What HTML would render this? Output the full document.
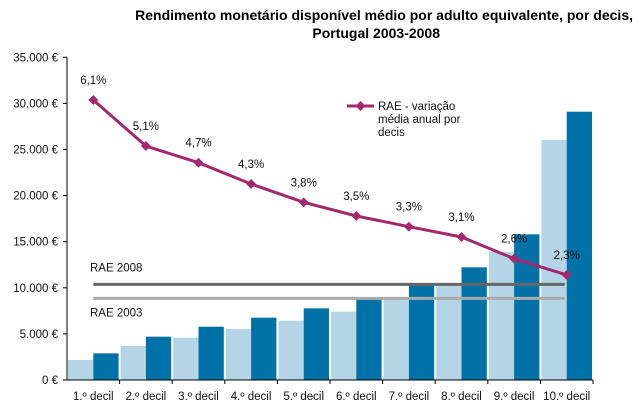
<!DOCTYPE html>
<html><head><meta charset="utf-8"><style>
body{margin:0;background:#fff;width:642px;height:411px;overflow:hidden;font-family:"Liberation Sans",sans-serif}
svg text{font-family:"Liberation Sans",sans-serif}
</style></head><body>
<svg id="c" width="642" height="411">
<text x="633" y="20" text-anchor="end" font-size="14" font-weight="bold">Rendimento monetário disponível médio por adulto equivalente, por decis,</text>
<text x="440" y="38" text-anchor="end" font-size="14" font-weight="bold">Portugal 2003-2008</text>
</svg>
<script>
const categories=["1.º decil","2.º decil","3.º decil","4.º decil","5.º decil","6.º decil","7.º decil","8.º decil","9.º decil","10.º decil"];
const rae2003=[2170,3690,4590,5530,6430,7410,8700,10400,13880,26030];
const rae2008=[2890,4700,5780,6760,7770,8850,10370,12220,15800,29100];
const lineValues=[30370,25380,23570,21260,19270,17790,16630,15510,13160,11390];
const lineLabels=["6,1%","5,1%","4,7%","4,3%","3,8%","3,5%","3,3%","3,1%","2,6%","2,3%"];
const yTicks=[0,5000,10000,15000,20000,25000,30000,35000];
const yTickLabels=["0 €","5.000 €","10.000 €","15.000 €","20.000 €","25.000 €","30.000 €","35.000 €"];
const refLines=[{name:"RAE 2008",v:10370},{name:"RAE 2003",v:8850}];
const svg=document.getElementById('c');const NS="http://www.w3.org/2000/svg";
const X0=67,X1=593,Y0=380,Y35=57.3;
const FS=11.5;
const y=v=>Y0-(v/35000)*(Y0-Y35);
const bw=(X1-X0)/categories.length;
const xc=i=>X0+bw*(i+0.5);
function el(t,a,p){const e=document.createElementNS(NS,t);for(const k in a)e.setAttribute(k,a[k]);(p||svg).appendChild(e);return e;}
categories.forEach((c,i)=>{
 let b=el('rect',{x:X0+bw*i+1,y:y(rae2003[i]),width:bw/2-1,height:Y0-y(rae2003[i]),fill:"#b5d5e6"});
 
 
 let d=el('rect',{x:xc(i),y:y(rae2008[i]),width:bw/2-1,height:Y0-y(rae2008[i]),fill:"#0072a8"});
 
 
 let t=el('text',{x:xc(i),y:400,'text-anchor':'middle','font-size':FS,fill:'#111'});t.textContent=c;
 
 
 el('line',{x1:X0+bw*(i+1),x2:X0+bw*(i+1),y1:Y0,y2:Y0+4,stroke:'#000'});
});
const rc=["#666","#aaa"];
refLines.forEach((r,i)=>{
 let l=el('line',{x1:xc(0),x2:xc(9)-2,y1:y(r.v),y2:y(r.v),stroke:rc[i],'stroke-width':3});
 
 
 let t=el('text',{x:90,y:i?y(r.v)+18:y(r.v)-13,'font-size':FS,fill:'#111'});t.textContent=r.name;
 
 
});
el('line',{x1:X0,x2:X0,y1:Y35,y2:Y0,stroke:'#000'});
el('line',{x1:X0,x2:X1,y1:Y0,y2:Y0,stroke:'#000'});
el('line',{x1:X1,x2:X1,y1:Y0,y2:Y0+4,stroke:'#000'});
yTicks.forEach((v,i)=>{
 el('line',{x1:X0-4,x2:X0,y1:y(v),y2:y(v),stroke:'#000'});
 let t=el('text',{x:58,y:y(v)+4,'text-anchor':'end','font-size':FS,fill:'#111'});t.textContent=yTickLabels[i];
 
 
});
let pts=lineValues.map((v,i)=>xc(i)+','+y(v)).join(' ');
let pl=el('polyline',{points:pts,fill:'none',stroke:'#a3286e','stroke-width':3});


lineValues.forEach((v,i)=>{
 let m=el('rect',{x:xc(i)-3.5,y:y(v)-3.5,width:7,height:7,fill:'#a3286e',transform:`rotate(45 ${xc(i)} ${y(v)})`});
 
 
 let t=el('text',{x:xc(i),y:y(v)-16,'text-anchor':'middle','font-size':FS,fill:'#111'});t.textContent=lineLabels[i];
 
 
});
let lg=el('g',{});


el('line',{x1:347,x2:374,y1:106,y2:106,stroke:'#a3286e','stroke-width':3},lg);
el('rect',{x:357,y:102.5,width:7,height:7,fill:'#a3286e',transform:'rotate(45 360.5 106)'},lg);
["RAE - variação","média anual por","decis"].forEach((s,i)=>{let t=el('text',{x:378,y:110+i*13,'font-size':FS,fill:'#111'},lg);t.textContent=s;});
</script>
</body></html>
